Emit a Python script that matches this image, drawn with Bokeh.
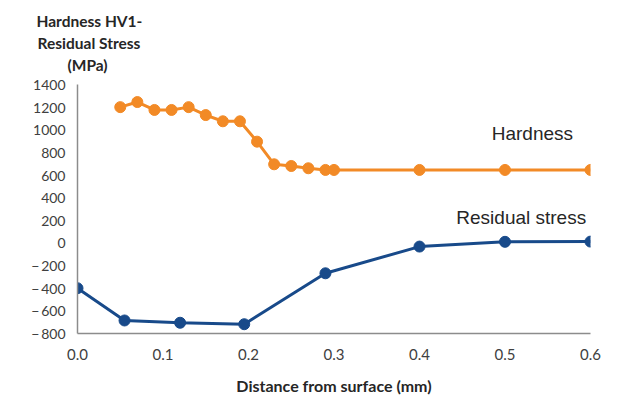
from bokeh.plotting import figure
from bokeh.models import Label, FixedTicker, CustomJSTickFormatter, Range1d, Title
from bokeh.embed import file_html
from bokeh.resources import INLINE

hard_x = [0.05, 0.07, 0.09, 0.11, 0.13, 0.15, 0.17, 0.19, 0.21, 0.23, 0.25, 0.27, 0.29, 0.30, 0.40, 0.50, 0.60]
hard_y = [1200, 1245, 1175, 1175, 1200, 1130, 1075, 1075, 895, 695, 680, 660, 645, 645, 645, 645, 645]
res_x = [0.0, 0.055, 0.12, 0.195, 0.29, 0.40, 0.50, 0.60]
res_y = [-400, -685, -705, -718, -268, -32, 10, 12]
x_ticks = [0.0, 0.1, 0.2, 0.3, 0.4, 0.5, 0.6]
y_ticks = [-800, -600, -400, -200, 0, 200, 400, 600, 800, 1000, 1200, 1400]
y_title = ["Hardness HV1-", "Residual Stress", "(MPa)"]

ORANGE = "#F28A26"
BLUE = "#184A8A"

p = figure(width=627, height=399, output_backend="svg", toolbar_location=None,
           x_range=Range1d(0, 0.6), y_range=Range1d(-800, 1400),
           min_border_left=77, min_border_right=37, min_border_top=84, min_border_bottom=66)
p.outline_line_color = None
p.grid.visible = False
p.background_fill_color = "white"

p.line(hard_x, hard_y, line_color=ORANGE, line_width=3)
p.scatter(hard_x, hard_y, size=11, fill_color=ORANGE, line_color=ORANGE)
p.line(res_x, res_y, line_color=BLUE, line_width=3)
p.scatter(res_x, res_y, size=11, fill_color=BLUE, line_color=BLUE)

for ax in (p.xaxis[0], p.yaxis[0]):
    ax.axis_line_color = "#8c8c8c"
    ax.axis_line_width = 1.5
    ax.major_tick_line_color = None
    ax.minor_tick_line_color = None
    ax.major_label_text_font = "Lato"
    ax.major_label_text_color = "#404040"

p.xaxis.ticker = FixedTicker(ticks=x_ticks)
p.xaxis.formatter = CustomJSTickFormatter(code="return tick.toFixed(1);")
p.xaxis.major_label_text_font_size = "15px"
p.xaxis.major_label_standoff = 9
p.xaxis.axis_label = "Distance from surface (mm)"
p.xaxis.axis_label_text_font = "Lato"
p.xaxis.axis_label_text_font_style = "bold"
p.xaxis.axis_label_text_font_size = "16px"
p.xaxis.axis_label_text_color = "#262626"
p.xaxis.axis_label_standoff = 13

p.yaxis.ticker = FixedTicker(ticks=y_ticks)
p.yaxis.formatter = CustomJSTickFormatter(code="return tick < 0 ? '\u2212\u2009' + Math.abs(tick) : '' + tick;")
p.yaxis.major_label_text_font_size = "14px"
p.yaxis.major_label_standoff = 6

# spacer between the frame and the y-axis title block
p.add_layout(Title(text=" ", text_font_size="1px", standoff=7), "above")
offsets = {"(MPa)": -10, "Residual Stress": -40, "Hardness HV1-": -41}
for t in reversed(y_title):
    p.add_layout(Title(text=t, align="left", offset=offsets[t], text_font="Lato", text_font_style="bold",
                       text_font_size="15.5px", text_color="#262626", standoff=2), "above")

p.add_layout(Label(x=0.532, y=965, text="Hardness", text_align="center", text_baseline="middle",
                   text_font="Liberation Sans", text_font_size="19px", text_color="#262626"))
p.add_layout(Label(x=0.519, y=221, text="Residual stress", text_align="center", text_baseline="middle",
                   text_font="Liberation Sans", text_font_size="19px", text_color="#262626"))

open("out.html", "w").write(file_html(p, INLINE))
